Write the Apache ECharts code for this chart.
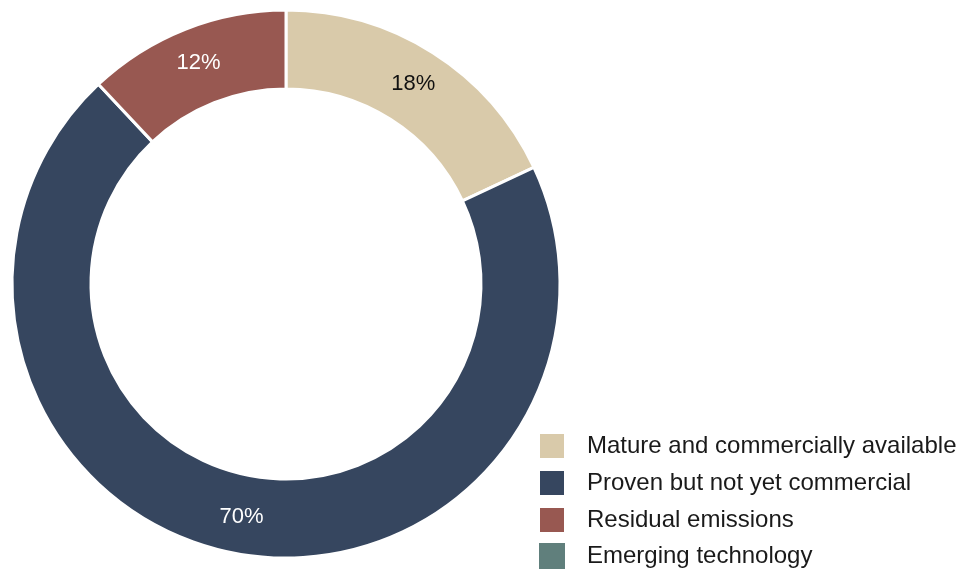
<!DOCTYPE html>
<html>
<head>
<meta charset="utf-8">
<script src="https://cdn.jsdelivr.net/npm/echarts@6/dist/echarts.min.js"></script>
<style>
html,body{margin:0;padding:0;background:#fff;}
#chart{width:967px;height:572px;}
</style>
</head>
<body>
<div id="chart"></div>
<script>
var categories = ["Mature and commercially available", "Proven but not yet commercial", "Residual emissions", "Emerging technology"];
var values = [18, 70, 12, 0];
var colors = ["#D9CAAA", "#36465F", "#985851", "#607F7C"];
var labelColors = ["#111111", "#FFFFFF", "#FFFFFF", "#FFFFFF"];

var data = categories.map(function (c, i) {
  return {
    name: c,
    value: values[i],
    itemStyle: { color: colors[i], borderWidth: values[i] > 0 ? 3 : 0 },
    label: { show: values[i] > 0, color: labelColors[i] }
  };
});

var chart = echarts.init(document.getElementById('chart'), null, { renderer: 'canvas' });
chart.setOption({
  animation: false,
  backgroundColor: '#ffffff',
  legend: {
    orient: 'vertical',
    left: 538,
    top: 432,
    height: 145,
    padding: 0,
    itemWidth: 26,
    itemHeight: 26,
    itemGap: 9,
    icon: 'rect',
    textStyle: { fontFamily: 'Liberation Sans, Arial, sans-serif', fontSize: 24, lineHeight: 26, color: '#1a1a1a', padding: [0, 0, 0, 17] },
    data: categories
  },
  series: [{
    type: 'pie',
    center: [286, 284],
    radius: [195, 274],
    startAngle: 90,
    clockwise: true,
    avoidLabelOverlap: false,
    itemStyle: { borderColor: '#ffffff', borderWidth: 3 },
    label: {
      show: true,
      position: 'inside',
      fontFamily: 'Liberation Sans, Arial, sans-serif',
      fontSize: 22,
      formatter: function (p) { return p.value + '%'; }
    },
    labelLine: { show: false },
    emphasis: { disabled: true },
    data: data
  }]
});
</script>
</body>
</html>
